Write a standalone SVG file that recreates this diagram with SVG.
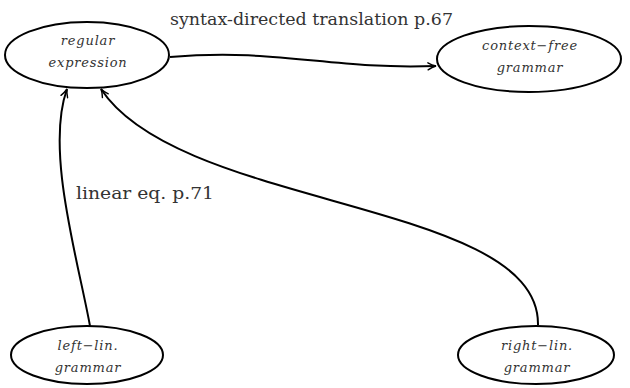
<svg xmlns="http://www.w3.org/2000/svg" width="630" height="388" viewBox="0 0 630 388">
<defs>
<style>
.node ellipse{fill:#fff;stroke:#000;stroke-width:2}
.nl{font-family:"DejaVu Serif",serif;font-style:italic;font-size:13px;fill:#333;text-anchor:middle;letter-spacing:0.8px}
.lbl{font-family:"DejaVu Serif",serif;font-size:16px;fill:#333}
.edge{fill:none;stroke:#000;stroke-width:2}
</style>
<marker id="arr" viewBox="0 0 10 10" refX="9" refY="5" markerWidth="10" markerHeight="10" markerUnits="userSpaceOnUse" orient="auto">
<path d="M1,1.5 Q5,4 9,5 Q5,6 1,8.5" fill="none" stroke="#000" stroke-width="1.4" stroke-linecap="round"/>
</marker>
</defs>
<g id="edges">
<path class="edge" d="M170,57 C280,48 330,70 436,66" marker-end="url(#arr)"/>
<path class="edge" d="M90,326 C78,260 45,150 67,89" marker-end="url(#arr)"/>
<path class="edge" d="M538,325 C540,200 180,210 101,89" marker-end="url(#arr)"/>
</g>
<g id="n-regex" class="node">
<ellipse cx="87" cy="55" rx="82" ry="33"/>
<text class="nl" x="88" y="45">regular</text>
<text class="nl" x="88" y="67">expression</text>
</g>
<g id="n-cfg" class="node">
<ellipse cx="529" cy="59" rx="92" ry="33"/>
<text class="nl" x="530" y="50">context−free</text>
<text class="nl" x="530" y="72">grammar</text>
</g>
<g id="n-left" class="node">
<ellipse cx="87" cy="355" rx="76" ry="29"/>
<text class="nl" x="88" y="350">left−lin.</text>
<text class="nl" x="88" y="372">grammar</text>
</g>
<g id="n-right" class="node">
<ellipse cx="536" cy="355" rx="78" ry="29"/>
<text class="nl" x="537" y="350">right−lin.</text>
<text class="nl" x="537" y="372">grammar</text>
</g>
<text class="lbl" x="170" y="25" textLength="283" lengthAdjust="spacingAndGlyphs">syntax-directed translation p.67</text>
<text class="lbl" x="76" y="199" textLength="138" lengthAdjust="spacingAndGlyphs">linear eq. p.71</text>
</svg>
